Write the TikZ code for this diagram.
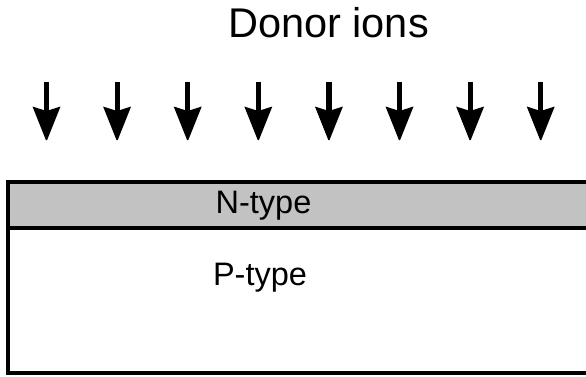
\documentclass[tikz,border=0pt]{standalone}
\usepackage{fontspec}
\setmainfont{Liberation Sans}
\tikzset{
  lbl/.style={inner sep=0pt, anchor=base},
  layer/.style={draw=black, line width=3.2pt},
  ionarrow/.style={fill=black, draw=none}
}
\begin{document}
\begin{tikzpicture}[x=1pt,y=-1pt]
\useasboundingbox (0,0) rectangle (586,376);
\clip (0,0) rectangle (586,376);
\node[lbl, font=\fontsize{41.5}{41.5}\selectfont] (title) at (328.5,37.5) {Donor ions};
\foreach \i in {0,...,7} {
  \pgfmathsetmacro{\xx}{46.5+70.6*\i}
  \coordinate (a\i) at (\xx,82);
  \fill[ionarrow] (\xx-2.6,82) rectangle (\xx+2.6,112);
  \fill[ionarrow] (\xx-14,106.5) -- (\xx,111) -- (\xx+14,106.5) -- (\xx+0.6,140) -- (\xx-0.6,140) -- cycle;
}
\fill[black!24] (8,182) rectangle (600,228);
\draw[layer] (600,182) -- (8,182) -- (8,373) -- (600,373);
\draw[layer] (8,228) -- (600,228);
\node[lbl, font=\fontsize{32.5}{32.5}\selectfont] (ntype) at (263.5,213.5) {N-type};
\node[lbl, font=\fontsize{32.5}{32.5}\selectfont] (ptype) at (260,285.5) {P-type};
\end{tikzpicture}
\end{document}
